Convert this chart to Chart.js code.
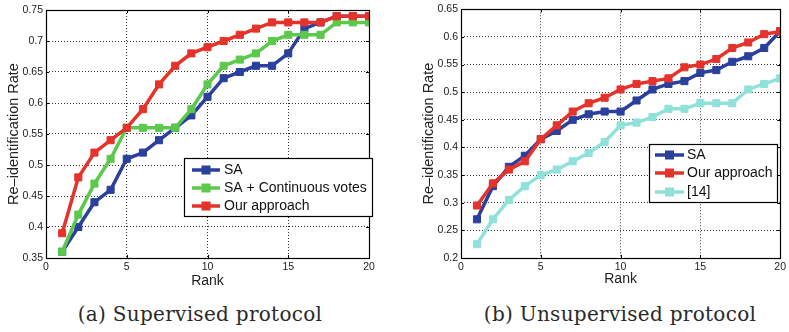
<!DOCTYPE html>
<html lang="en">
  <head>
    <meta charset="UTF-8" />
    <title>Re-identification rate vs rank</title>
    <script src="https://cdn.jsdelivr.net/npm/chart.js"></script>
    <style>
      body {
        margin: 0;
        background: #fff;
        width: 789px;
        height: 332px;
        position: relative;
        overflow: hidden;
      }
      canvas {
        position: absolute;
        top: 0;
      }
      #supChart {
        left: 0;
      }
      #unsupChart {
        left: 395px;
      }
      .caption {
        position: absolute;
        top: 301px;
        width: 400px;
        text-align: center;
        font-family: "DejaVu Serif", serif;
        font-size: 20px;
        line-height: 26px;
        letter-spacing: 0.3px;
        color: #2a2a2a;
      }
    </style>
  </head>
  <body>
    <canvas id="supChart" width="390" height="292"></canvas>
    <canvas id="unsupChart" width="394" height="292"></canvas>
    <div class="caption" style="left: 0">(a) Supervised protocol</div>
    <div class="caption" style="left: 420px">(b) Unsupervised protocol</div>

    <script>
      // Data
      const ranks = [1, 2, 3, 4, 5, 6, 7, 8, 9, 10, 11, 12, 13, 14, 15, 16, 17, 18, 19, 20];

      // (a) supervised
      const supSA = [0.36, 0.40, 0.44, 0.46, 0.51, 0.52, 0.54, 0.56, 0.58, 0.61,
        0.64, 0.65, 0.66, 0.66, 0.68, 0.72, 0.73, 0.74, 0.74, 0.74];
      const supSAVotes = [0.36, 0.42, 0.47, 0.51, 0.56, 0.56, 0.56, 0.56, 0.59, 0.63,
        0.66, 0.67, 0.68, 0.70, 0.71, 0.71, 0.71, 0.73, 0.73, 0.73];
      const supOurs = [0.39, 0.48, 0.52, 0.54, 0.56, 0.59, 0.63, 0.66, 0.68, 0.69,
        0.70, 0.71, 0.72, 0.73, 0.73, 0.73, 0.73, 0.74, 0.74, 0.74];

      // (b) unsupervised
      const unsupSA = [0.27, 0.33, 0.365, 0.385, 0.415, 0.43, 0.45, 0.46, 0.465, 0.465,
        0.485, 0.505, 0.515, 0.52, 0.535, 0.54, 0.555, 0.565, 0.58, 0.61];
      const unsupOurs = [0.295, 0.335, 0.36, 0.375, 0.415, 0.44, 0.465, 0.48, 0.49, 0.505,
        0.515, 0.52, 0.525, 0.545, 0.55, 0.56, 0.58, 0.59, 0.605, 0.61];
      const unsupRef14 = [0.225, 0.27, 0.305, 0.33, 0.35, 0.36, 0.375, 0.39, 0.41, 0.44,
        0.445, 0.455, 0.47, 0.47, 0.48, 0.48, 0.48, 0.505, 0.515, 0.525];

      const xTicks = [0, 5, 10, 15, 20];

      const BLUE = "#2b3f9d";
      const GREEN = "#5cc94c";
      const RED = "#e5322a";
      const CYAN = "#8fe1d9";
      const FONT = "'Liberation Sans', Arial, sans-serif";

      const toPoints = (vals) => ranks.map((r, i) => ({ x: r, y: vals[i] }));

      const makeDataset = (label, vals, color, order) => ({
        label,
        data: toPoints(vals),
        borderColor: color,
        backgroundColor: color,
        pointBackgroundColor: color,
        pointBorderColor: color,
        borderWidth: 3.5,
        pointStyle: "rect",
        pointRadius: 5,
        pointBorderWidth: 1,
        tension: 0,
        order,
      });

      // black box around plot + small inward ticks (matlab style)
      const framePlugin = {
        id: "frame",
        afterDatasetsDraw(chart) {
          const { ctx, chartArea: a, scales } = chart;
          ctx.save();
          ctx.strokeStyle = "#000";
          ctx.lineWidth = 1;
          ctx.beginPath();
          scales.x.ticks.forEach((t) => {
            const px = Math.round(scales.x.getPixelForValue(t.value)) + 0.5;
            ctx.moveTo(px, a.bottom);
            ctx.lineTo(px, a.bottom - 3);
            ctx.moveTo(px, a.top);
            ctx.lineTo(px, a.top + 3);
          });
          scales.y.ticks.forEach((t) => {
            const py = Math.round(scales.y.getPixelForValue(t.value)) + 0.5;
            ctx.moveTo(a.left, py);
            ctx.lineTo(a.left + 3, py);
            ctx.moveTo(a.right, py);
            ctx.lineTo(a.right - 3, py);
          });
          ctx.stroke();
          ctx.lineWidth = 1.2;
          ctx.strokeRect(
            Math.round(a.left) + 0.5,
            Math.round(a.top) + 0.5,
            Math.round(a.width),
            Math.round(a.height)
          );
          ctx.restore();
        },
      };

      // boxed legend placed inside the axes
      const boxLegend = {
        id: "boxLegend",
        afterDraw(chart, args, opts) {
          const { ctx } = chart;
          const { x, y, w, h, rowY, lineX0, lineX1, textX } = opts;
          ctx.save();
          ctx.fillStyle = "#fff";
          ctx.fillRect(x, y, w, h);
          ctx.strokeStyle = "#000";
          ctx.lineWidth = 1.2;
          ctx.strokeRect(x + 0.5, y + 0.5, w, h);
          ctx.font = "14px " + FONT;
          ctx.textBaseline = "middle";
          chart.data.datasets.forEach((ds, i) => {
            const ly = y + rowY[i];
            ctx.strokeStyle = ds.borderColor;
            ctx.lineWidth = 3.5;
            ctx.beginPath();
            ctx.moveTo(x + lineX0, ly);
            ctx.lineTo(x + lineX1, ly);
            ctx.stroke();
            ctx.fillStyle = ds.borderColor;
            const cx = x + (lineX0 + lineX1) / 2;
            ctx.fillRect(cx - 4.5, ly - 4.5, 9, 9);
            ctx.fillStyle = "#111";
            ctx.fillText(ds.label, x + textX, ly + 0.5);
          });
          ctx.restore();
        },
      };

      const renderChart = ({ canvasId, datasets, yMin, yMax, padding, xHeight, titleBottom, legend }) => {
        new Chart(document.getElementById(canvasId), {
          type: "line",
          data: { datasets },
          plugins: [framePlugin, boxLegend],
          options: {
            responsive: false,
            animation: false,
            devicePixelRatio: 1,
            layout: { padding },
            plugins: {
              legend: { display: false },
              tooltip: { enabled: false },
              boxLegend: legend,
            },
            scales: {
              x: {
                type: "linear",
                min: 0,
                max: 20,
                afterBuildTicks: (scale) => {
                  scale.ticks = xTicks.map((v) => ({ value: v }));
                },
                afterFit: (scale) => {
                  scale.height = xHeight;
                },
                ticks: {
                  font: { family: FONT, size: 10.5 },
                  color: "#222",
                  padding: 3,
                  maxRotation: 0,
                },
                grid: { color: "#333", lineWidth: 1, drawTicks: false },
                border: { display: false, dash: [1, 2] },
                title: {
                  display: true,
                  text: "Rank",
                  font: { family: FONT, size: 14 },
                  color: "#222",
                  padding: { top: 0, bottom: titleBottom },
                },
              },
              y: {
                min: yMin,
                max: yMax,
                afterFit: (scale) => {
                  scale.width = 46;
                },
                ticks: {
                  stepSize: 0.05,
                  font: { family: FONT, size: 10.5 },
                  color: "#222",
                  padding: 3,
                  callback: (v) => String(+v.toFixed(2)),
                },
                grid: { color: "#333", lineWidth: 1, drawTicks: false },
                border: { display: false, dash: [1, 2] },
                title: {
                  display: true,
                  text: "Re\u2013identification Rate",
                  font: { family: FONT, size: 14.5 },
                  color: "#222",
                  padding: { top: 5, bottom: 4 },
                },
              },
            },
          },
        });
      };

      renderChart({
        canvasId: "supChart",
        datasets: [
          makeDataset("SA", supSA, BLUE, 2),
          makeDataset("SA + Continuous votes", supSAVotes, GREEN, 1),
          makeDataset("Our approach", supOurs, RED, 0),
        ],
        yMin: 0.35,
        yMax: 0.75,
        padding: { left: 0, right: 21, top: 10, bottom: 0 },
        xHeight: 34,
        titleBottom: 2.6,
        legend: { x: 184, y: 158, w: 188, h: 58, rowY: [12, 30, 48], lineX0: 8, lineX1: 36, textX: 40 },
      });

      renderChart({
        canvasId: "unsupChart",
        datasets: [
          makeDataset("SA", unsupSA, BLUE, 1),
          makeDataset("Our approach", unsupOurs, RED, 0),
          makeDataset("[14]", unsupRef14, CYAN, 2),
        ],
        yMin: 0.2,
        yMax: 0.65,
        padding: { left: 20, right: 6, top: 4, bottom: 0 },
        xHeight: 34,
        titleBottom: 4.6,
        legend: { x: 254, y: 144, w: 128, h: 58, rowY: [11, 29, 48], lineX0: 6, lineX1: 35, textX: 38 },
      });
    </script>
  </body>
</html>
